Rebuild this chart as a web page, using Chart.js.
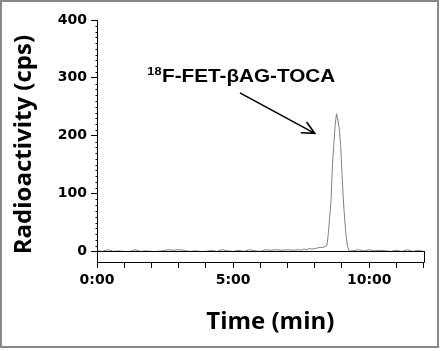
<!DOCTYPE html>
<html>
<head>
<meta charset="utf-8">
<script src="https://cdn.jsdelivr.net/npm/chart.js@4"></script>
<style>
  body { margin: 0; background: #fff; }
  canvas { display: block; }
</style>
</head>
<body>
<canvas id="grafico" width="440" height="351"></canvas>
<script>
// === DATOS DEL CROMATOGRAMA ===
const tiempo = [
  0, 0.2, 0.4, 0.6, 0.8, 1.0, 1.2, 1.4, 1.6, 1.8,
  2.0, 2.2, 2.4, 2.6, 2.8, 3.0, 3.2, 3.4, 3.6, 3.8,
  4.0, 4.2, 4.4, 4.6, 4.8, 5.0, 5.2, 5.4, 5.6, 5.8,
  6.0, 6.2, 6.4, 6.6, 6.8, 7.0, 7.2, 7.4,
  7.5, 7.6, 7.7, 7.8, 7.9, 8.0, 8.1, 8.2, 8.3, 8.4,
  8.45, 8.5, 8.55, 8.6, 8.65, 8.7, 8.75, 8.8, 8.85, 8.9,
  8.95, 9.0, 9.05, 9.1, 9.15, 9.2, 9.25, 9.3,
  9.4, 9.6, 9.8, 10.0, 10.2, 10.4, 10.6, 10.8, 11.0, 11.2,
  11.4, 11.6, 11.8, 12.0
];
const cps = [
  1, 0, 3, 0, 1, 0, 0, 3, 0, 1,
  0, 0, 1, 3, 2, 3, 2, 0, 1, 0,
  0, 2, 0, 3, 1, 0, 2, 0, 3, 1,
  0, 3, 2, 3, 2, 3, 2, 3,
  2, 4, 3, 5, 4, 5, 6, 7, 7, 9,
  11, 31, 60, 89, 150, 185, 218, 238, 228, 212,
  185, 135, 89, 55, 27, 10, 2, 1,
  1, 3, 1, 3, 1, 2, 1, 0, 2, 0,
  3, 0, 2, 0
];

// ejes
const yTicks = [0, 100, 200, 300, 400];
const xTicks = [0, 1, 2, 3, 4, 5, 6, 7, 8, 9, 10, 11, 12];
const xLabels = { 0: '0:00', 5: '5:00', 10: '10:00' };

// anotación (en unidades de datos)
const etiqueta = { sup: '18', texto: 'F-FET-\u03B2AG-TOCA' };
const etiquetaEn = { x: 1.85, y: 293 };
const flechaDesde = { x: 5.25, y: 274 };
const flechaHasta = { x: 8.0, y: 204 };

const fuenteTicks = { family: 'DejaVu Sans', weight: 'bold', size: 14 };
const fuenteTitulo = { family: 'Open Sans', weight: 'bold', size: 24 };

// === PLUGIN: marco, ejes, ticks menores y flecha ===
const extras = {
  id: 'extras',
  beforeDraw(chart) {
    const ctx = chart.ctx;
    ctx.save();
    ctx.fillStyle = '#fff';
    ctx.fillRect(0, 0, chart.width, chart.height);
    ctx.restore();
  },
  afterDraw(chart) {
    const ctx = chart.ctx;
    const x = chart.scales.x;
    const y = chart.scales.y;
    ctx.save();

    // marco exterior
    ctx.strokeStyle = '#888';
    ctx.lineWidth = 2;
    ctx.strokeRect(1, 1, 437, 346);

    // líneas de los ejes
    const xl = Math.round(x.left) + 0.5;
    const yb = Math.round(y.bottom) - 0.5;
    const xr = Math.round(x.right) - 0.5;
    ctx.strokeStyle = '#000';
    ctx.lineWidth = 1;
    ctx.beginPath();
    ctx.moveTo(xl, y.top);
    ctx.lineTo(xl, yb);
    ctx.lineTo(xr, yb);
    // lado derecho de la franja bajo el cero
    ctx.lineTo(xr, y.getPixelForValue(0));
    // ticks menores del eje Y
    for (let v = 10; v < 400; v += 10) {
      if (v % 100 === 0) continue;
      const py = Math.round(y.getPixelForValue(v)) + 0.5;
      ctx.moveTo(xl - 2, py);
      ctx.lineTo(xl, py);
    }
    ctx.stroke();

    // flecha
    const x1 = x.getPixelForValue(flechaDesde.x), y1 = y.getPixelForValue(flechaDesde.y);
    const x2 = x.getPixelForValue(flechaHasta.x), y2 = y.getPixelForValue(flechaHasta.y);
    const ang = Math.atan2(y2 - y1, x2 - x1);
    ctx.lineWidth = 1.6;
    ctx.beginPath();
    ctx.moveTo(x1, y1);
    ctx.lineTo(x2, y2);
    ctx.moveTo(x2 - 14 * Math.cos(ang - 0.45), y2 - 14 * Math.sin(ang - 0.45));
    ctx.lineTo(x2, y2);
    ctx.lineTo(x2 - 14 * Math.cos(ang + 0.45), y2 - 14 * Math.sin(ang + 0.45));
    ctx.stroke();

    // etiqueta
    const lx = x.getPixelForValue(etiquetaEn.x);
    const ly = y.getPixelForValue(etiquetaEn.y);
    ctx.translate(lx, ly);
    ctx.scale(1.15, 1);
    ctx.fillStyle = '#000';
    ctx.textBaseline = 'alphabetic';
    ctx.font = 'bold 11px "Liberation Sans"';
    ctx.fillText(etiqueta.sup, 0, -7);
    const w = ctx.measureText(etiqueta.sup).width;
    ctx.font = 'bold 18px "Liberation Sans"';
    ctx.fillText(etiqueta.texto, w + 0.5, 0);
    ctx.restore();
  }
};

// === GRÁFICO ===
const ctx = document.getElementById('grafico').getContext('2d');
new Chart(ctx, {
  type: 'line',
  data: {
    datasets: [{
      data: tiempo.map((t, i) => ({ x: t, y: cps[i] })),
      borderColor: '#808080',
      borderWidth: 1,
      pointRadius: 0,
      tension: 0,
      fill: false
    }]
  },
  options: {
    responsive: false,
    animation: false,
    layout: { padding: { left: 0, top: 20, right: 15, bottom: 0 } },
    plugins: { legend: { display: false }, tooltip: { enabled: false } },
    scales: {
      x: {
        type: 'linear',
        min: 0,
        max: 12.05,
        afterBuildTicks: s => { s.ticks = xTicks.map(v => ({ value: v })); },
        afterFit: s => { s.height = 88; },
        grid: { drawOnChartArea: false, drawTicks: true, tickLength: 5, tickColor: '#000' },
        border: { display: false },
        ticks: {
          autoSkip: false,
          maxRotation: 0,
          padding: 4,
          color: '#000',
          font: fuenteTicks,
          callback: v => xLabels[v] || ''
        },
        title: {
          display: true,
          text: '   Time (min)',
          color: '#000',
          font: fuenteTitulo,
          padding: { top: 0, bottom: 14 }
        }
      },
      y: {
        min: -20,
        max: 400,
        afterBuildTicks: s => { s.ticks = yTicks.map(v => ({ value: v })); },
        afterFit: s => { s.width = 97; },
        grid: {
          z: 1,
          drawTicks: true,
          tickLength: 6,
          tickColor: '#000',
          color: c => (c.tick && c.tick.value === 0) ? '#000' : 'rgba(0,0,0,0)',
          lineWidth: 1
        },
        border: { display: false },
        ticks: {
          padding: 4,
          color: '#000',
          font: fuenteTicks
        },
        title: {
          display: true,
          text: 'Radioactivity (cps) ',
          color: '#000',
          font: fuenteTitulo,
          padding: { top: 10, bottom: 0 }
        }
      }
    }
  },
  plugins: [extras]
});
</script>
</body>
</html>
